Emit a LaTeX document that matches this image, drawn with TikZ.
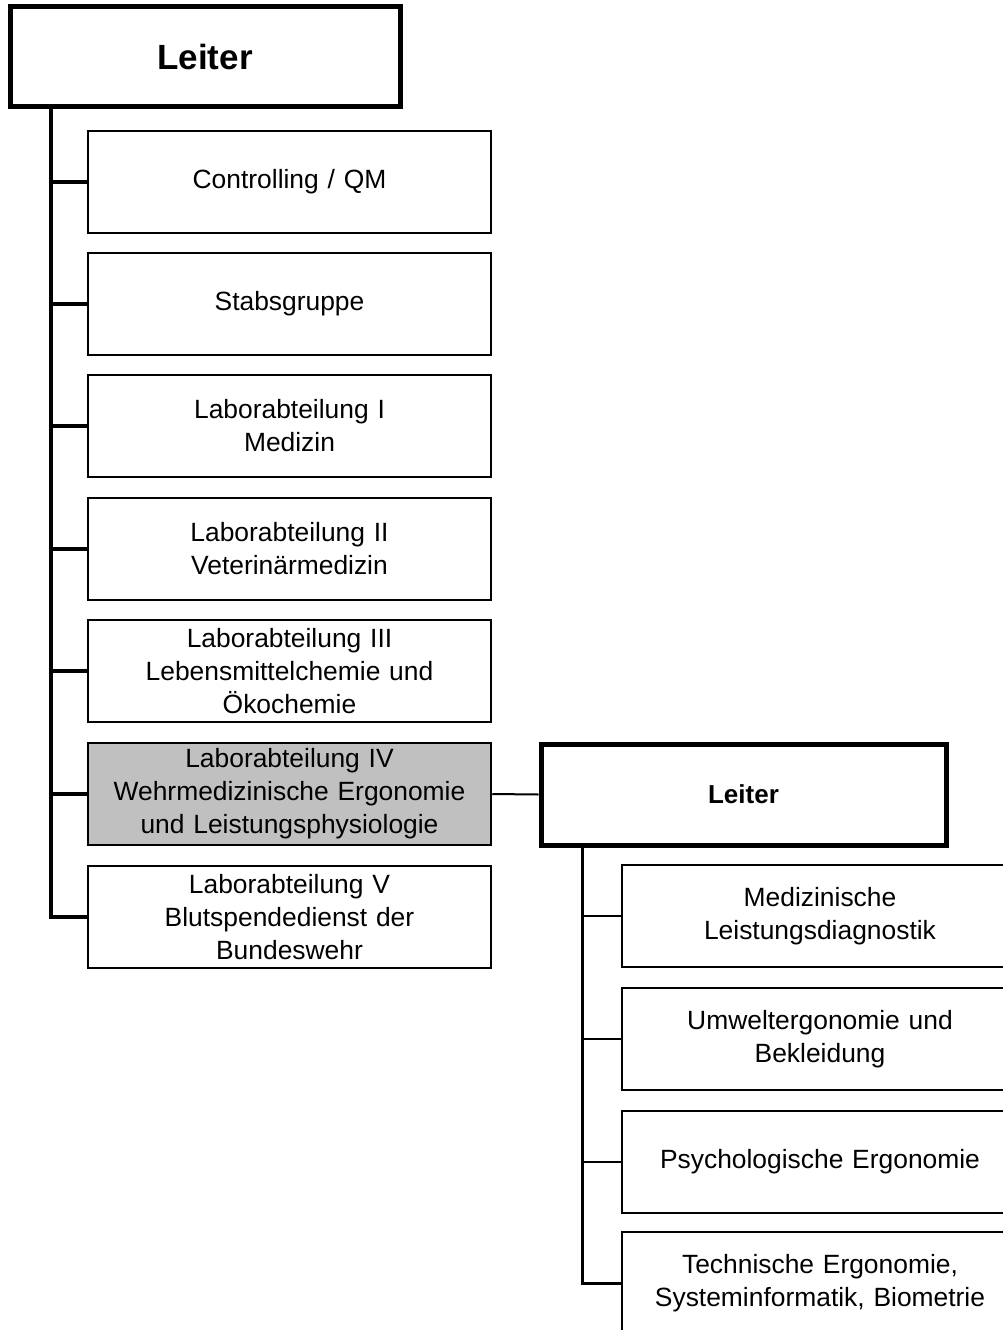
\documentclass[tikz,border=0pt]{standalone}
\usepackage{fontspec}
\setmainfont{Liberation Sans}
\definecolor{boxgray}{RGB}{192,192,192}
\begin{document}
\begin{tikzpicture}[x=1pt,y=-1pt,
  base/.style={rectangle,draw=black,fill=white,inner sep=0pt,align=center,
    font=\fontsize{26.4}{33}\selectfont},
  topbox/.style={base,line width=5pt,font=\bfseries\fontsize{35}{40}\selectfont},
  subhead/.style={base,line width=5pt,font=\bfseries\fontsize{26}{31}\selectfont},
  leftbox/.style={base,line width=2.5pt,minimum width=403pt,minimum height=102pt,text width=395pt},
  rightbox/.style={base,line width=2.5pt,minimum width=396pt,minimum height=102pt,text width=390pt},
  thicktrunk/.style={line width=4.5pt},
]
\useasboundingbox (0,0) rectangle (1003,1330);
\clip (0,0) rectangle (1003,1330);
\fill[white] (0,0) rectangle (1003,1330);

\coordinate (lt) at (51,0);
\coordinate (rt) at (582,0);

\node[topbox,minimum width=390pt,minimum height=99pt] (lead) at (205,56.5) {Leiter};
\node[leftbox] (b1) at (289.5,182) {Controlling / QM};
\node[leftbox] (b2) at (289.5,304) {Stabsgruppe};
\node[leftbox] (b3) at (289.5,426) {Laborabteilung I\\Medizin};
\node[leftbox] (b4) at (289.5,549) {Laborabteilung II\\Veterinärmedizin};
\node[leftbox] (b5) at (289.5,671) {Laborabteilung III\\Lebensmittelchemie und\\Ökochemie};
\node[leftbox,fill=boxgray] (b6) at (289.5,794) {Laborabteilung IV\\Wehrmedizinische Ergonomie\\und Leistungsphysiologie};
\node[leftbox] (b7) at (289.5,917) {Laborabteilung V\\Blutspendedienst der\\Bundeswehr};

\node[subhead,minimum width=405pt,minimum height=101pt] (sub) at (743.5,794.5) {Leiter};
\node[rightbox] (r1) at (820,916) {Medizinische\\Leistungsdiagnostik};
\node[rightbox] (r2) at (820,1039) {Umweltergonomie und\\Bekleidung};
\node[rightbox] (r3) at (820,1162) {Psychologische Ergonomie};
\node[rightbox] (r4) at (820,1283) {Technische Ergonomie,\\Systeminformatik, Biometrie};

% left trunk
\draw[thicktrunk] (lead.south -| lt) -- (b7.west -| lt) -- (b7.west);
\foreach \b in {b1,b2,b3,b4,b5,b6}
  \draw[thicktrunk] (\b.west -| lt) -- (\b.west);

% link to sub-department
\draw[line width=2pt] (b6.east) -- (sub.west);

% right trunk
\draw[line width=3pt] (sub.south -| rt) -- (r4.west -| rt) -- (r4.west);
\foreach \r in {r1,r2,r3}
  \draw[line width=2.5pt] (\r.west -| rt) -- (\r.west);
\end{tikzpicture}
\end{document}
